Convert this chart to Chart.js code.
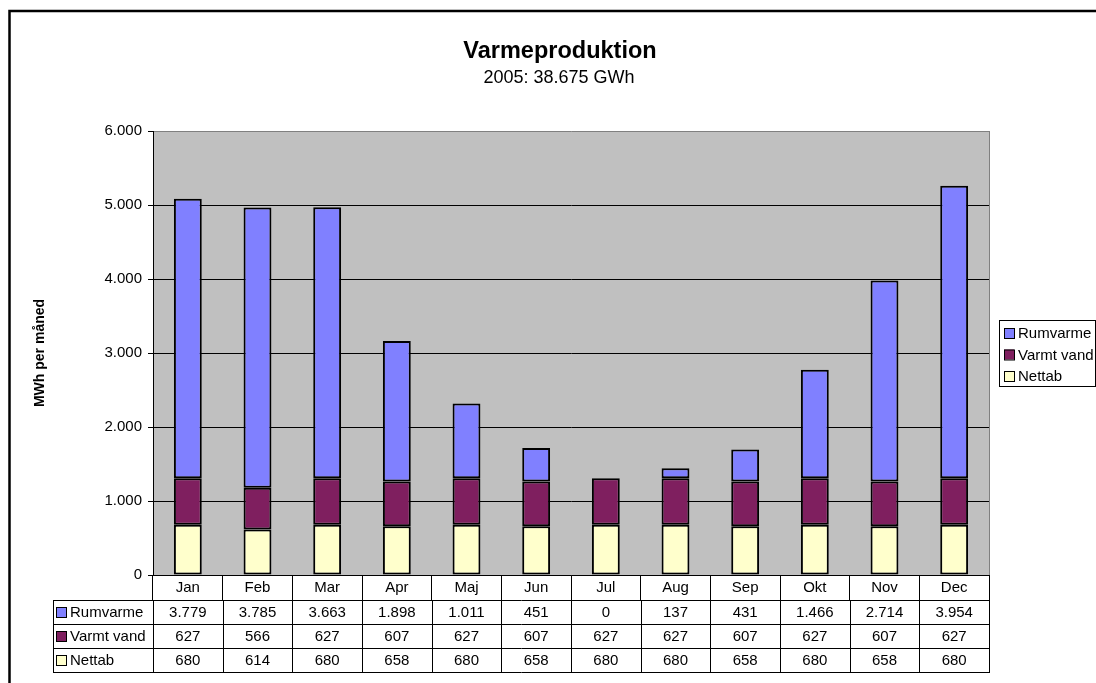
<!DOCTYPE html>
<html>
<head>
<meta charset="utf-8">
<title>Varmeproduktion</title>
<script src="https://cdn.jsdelivr.net/npm/chart.js@4.4.0/dist/chart.umd.min.js"></script>
<style>
  body { margin: 0; background: #fff; }
  #wrap { width: 1096px; height: 683px; }
</style>
</head>
<body>
<div id="wrap"><canvas id="chart"></canvas></div>
<script>
// Data (MWh per måned, 2005)
const months = ['Jan', 'Feb', 'Mar', 'Apr', 'Maj', 'Jun', 'Jul', 'Aug', 'Sep', 'Okt', 'Nov', 'Dec'];
const rumvarme = [3779, 3785, 3663, 1898, 1011, 451, 0, 137, 431, 1466, 2714, 3954];
const varmtVand = [627, 566, 627, 607, 627, 607, 627, 627, 607, 627, 607, 627];
const nettab = [680, 614, 680, 658, 680, 658, 680, 680, 658, 680, 658, 680];
const yMax = 6000;
const yStep = 1000;

const chartTitle = 'Varmeproduktion';
const chartSubtitle = '2005: 38.675 GWh';
const yTitle = 'MWh per måned';

const FONT = '"Liberation Sans", Arial, sans-serif';

// rækkefølge som i tabellen (øverst til nederst)
const series = [
    { label: 'Rumvarme', data: rumvarme, color: '#8080ff' },
    { label: 'Varmt vand', data: varmtVand, color: '#7f1f5f' },
    { label: 'Nettab', data: nettab, color: '#ffffcc' }
];

// 3779 -> "3.779"
function fmt(v) {
    return String(v).replace(/\B(?=(\d{3})+(?!\d))/g, '.');
}

function drawKey(ctx, x, y, color) {
    ctx.fillStyle = color;
    ctx.fillRect(x, y, 10, 10);
    ctx.strokeStyle = '#000';
    ctx.lineWidth = 1;
    ctx.strokeRect(x + 0.5, y + 0.5, 10, 10);
}

const excelLook = {
    id: 'excelLook',
    beforeDraw(chart) {
        const { ctx, chartArea: a } = chart;
        ctx.save();
        ctx.fillStyle = '#fff';
        ctx.fillRect(0, 0, chart.width, chart.height);
        ctx.fillStyle = '#c0c0c0';
        ctx.fillRect(a.left, a.top, a.right - a.left, a.bottom - a.top);
        ctx.restore();
    },
    afterDraw(chart) {
        const { ctx, chartArea: a } = chart;
        const xs = chart.scales.x;
        const colW = (a.right - a.left) / months.length;
        ctx.save();

        // ramme (kun venstre og top er synlig)
        ctx.strokeStyle = '#000';
        ctx.lineWidth = 2.5;
        ctx.beginPath();
        ctx.moveTo(9.5, chart.height);
        ctx.lineTo(9.5, 11);
        ctx.lineTo(chart.width, 11);
        ctx.stroke();

        // højre kant af plotområdet
        ctx.strokeStyle = '#808080';
        ctx.lineWidth = 1;
        ctx.beginPath();
        ctx.moveTo(Math.round(a.right) + 0.5, a.top);
        ctx.lineTo(Math.round(a.right) + 0.5, a.bottom);
        ctx.stroke();

        // titel
        ctx.fillStyle = '#000';
        ctx.textAlign = 'center';
        ctx.textBaseline = 'alphabetic';
        ctx.font = 'bold 23.5px ' + FONT;
        ctx.fillText(chartTitle, 560, 58);
        ctx.font = '18px ' + FONT;
        ctx.fillText(chartSubtitle, 559, 83);

        // forklaring
        ctx.fillStyle = '#fff';
        ctx.fillRect(999.5, 320.5, 96, 66);
        ctx.strokeStyle = '#000';
        ctx.strokeRect(999.5, 320.5, 96, 66);
        ctx.font = '15px ' + FONT;
        ctx.textAlign = 'left';
        ctx.textBaseline = 'middle';
        series.forEach((s, i) => {
            const cy = 333 + i * 21.5;
            drawKey(ctx, 1004, cy - 5, s.color);
            ctx.fillStyle = '#000';
            ctx.fillText(s.label, 1018, cy + 1);
        });

        // datatabel
        const top = Math.round(a.bottom) + 25;
        const rowH = 24;
        const left = 53;
        const right = Math.round(a.right);
        ctx.strokeStyle = '#000';
        ctx.lineWidth = 1;
        ctx.beginPath();
        for (let r = 0; r <= series.length; r++) {
            const y = top + r * rowH + 0.5;
            ctx.moveTo(left, y);
            ctx.lineTo(right + 1, y);
        }
        ctx.moveTo(left + 0.5, top);
        ctx.lineTo(left + 0.5, top + series.length * rowH);
        for (let i = 0; i <= months.length; i++) {
            const x = Math.round(xs.getPixelForValue(i) - colW / 2) + 0.5;
            ctx.moveTo(x, top);
            ctx.lineTo(x, top + series.length * rowH);
        }
        ctx.stroke();

        ctx.font = '15px ' + FONT;
        series.forEach((s, r) => {
            const cy = top + r * rowH + rowH / 2;
            drawKey(ctx, 56, cy - 5, s.color);
            ctx.fillStyle = '#000';
            ctx.textAlign = 'left';
            ctx.fillText(s.label, 70, cy + 1);
            ctx.textAlign = 'center';
            s.data.forEach((v, i) => {
                ctx.fillText(fmt(v), xs.getPixelForValue(i), cy + 1);
            });
        });

        ctx.restore();
    }
};

const datasets = series.slice().reverse().map(s => ({
    label: s.label,
    data: s.data,
    backgroundColor: s.color,
    borderColor: '#000',
    borderWidth: 2,
    borderSkipped: false,
    barPercentage: 0.4,
    categoryPercentage: 1.0
}));

new Chart(document.getElementById('chart'), {
    type: 'bar',
    data: { labels: months, datasets: datasets },
    plugins: [excelLook],
    options: {
        responsive: true,
        maintainAspectRatio: false,
        animation: false,
        layout: { padding: { top: 131, right: 107, bottom: 0, left: 0 } },
        plugins: {
            legend: { display: false },
            title: { display: false }
        },
        scales: {
            x: {
                stacked: true,
                grid: {
                    offset: true,
                    drawOnChartArea: false,
                    tickLength: 25,
                    color: '#000',
                    tickColor: '#000'
                },
                border: { color: '#000' },
                ticks: {
                    padding: -21.5,
                    color: '#000',
                    font: { family: FONT, size: 15 }
                },
                afterFit(s) { s.height = 108; }
            },
            y: {
                stacked: true,
                min: 0,
                max: yMax,
                ticks: {
                    stepSize: yStep,
                    padding: 6,
                    color: '#000',
                    font: { family: FONT, size: 15 },
                    callback: v => fmt(v)
                },
                grid: {
                    color: ctx => (ctx.tick && ctx.tick.value === yMax) ? '#808080' : '#000',
                    tickColor: '#000',
                    tickLength: 5
                },
                border: { color: '#000' },
                title: {
                    display: true,
                    text: yTitle,
                    color: '#000',
                    font: { family: FONT, size: 14, weight: 'bold' },
                    padding: { top: 32, bottom: 0 }
                },
                afterFit(s) { s.width = 153; }
            }
        }
    }
});
</script>
</body>
</html>
